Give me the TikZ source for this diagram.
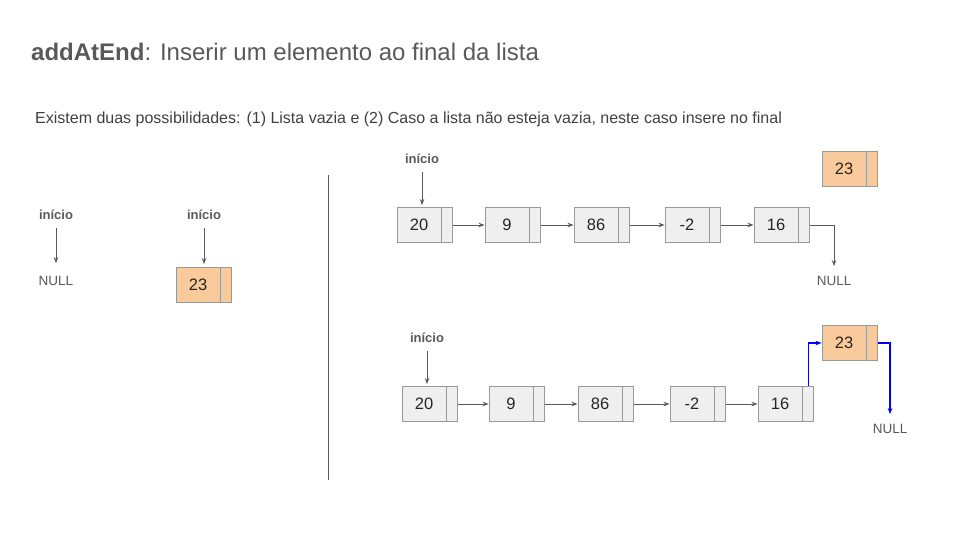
\documentclass[tikz,border=0pt]{standalone}
\usepackage{fontspec}
\setmainfont{Liberation Sans}
\usetikzlibrary{positioning,arrows.meta}
\definecolor{boxgray}{HTML}{EFEFEF}
\definecolor{edgegray}{HTML}{999999}
\definecolor{orangefill}{HTML}{F9CB9C}
\definecolor{textgray}{HTML}{595959}
\definecolor{linkblue}{HTML}{0000FF}
\begin{document}
\begin{tikzpicture}[
  x=1pt, y=-1pt,
  every node/.style={font=\fontsize{16.5}{19}\selectfont, inner sep=0pt, text=black!85},
  value/.style={draw=edgegray, line width=0.9pt, fill=boxgray, minimum width=44pt, minimum height=35pt},
  pointer/.style={draw=edgegray, line width=0.9pt, fill=boxgray, minimum width=11pt, minimum height=35pt, anchor=west},
  newval/.style={value, fill=orangefill},
  newptr/.style={pointer, fill=orangefill},
  head/.style={font=\bfseries\fontsize{13}{15}\selectfont, text=textgray},
  nulltext/.style={font=\fontsize{13.5}{16}\selectfont, text=textgray},
  link/.style={draw=textgray, line width=0.9pt, -{Stealth[length=6pt,width=4.5pt]}},
  newlink/.style={draw=linkblue, line width=1.1pt, -{Stealth[length=6pt,width=4.5pt]}}
]
  \useasboundingbox (0,0) rectangle (960,540);

  % title and text
  \node[anchor=base west, font=\fontsize{24}{28}\selectfont, text=textgray] (title) at (31,61)
    {\textbf{addAtEnd}: Inserir um elemento ao final da lista};
  \node[anchor=base west, font=\fontsize{16}{19}\selectfont, text=black!75] (intro) at (35,124)
    {Existem duas possibilidades: (1) Lista vazia e (2) Caso a lista não esteja vazia, neste caso insere no final};

  % separator
  \coordinate (sepa) at (328,175);
  \coordinate (sepb) at (328,480);
  \draw[textgray, line width=1pt] (sepa) -- (sepb);

  % (1) empty list
  \node[head] (h0) at (56,215) {início};
  \node[nulltext] (n0) at (56,281) {NULL};
  \draw[link, shorten <=8pt, shorten >=13pt] (h0) -- (n0);

  \node[head] (h1) at (204,215) {início};
  \node[newval] (l1) at (198,285) {23};
  \node[newptr] (l1p) at (l1.east) {};
  \draw[link, shorten <=8pt, shorten >=3pt] (h1) -- (h1 |- l1.north);

  % (2) list before insertion
  \node[head] (ht) at (422,159) {início};
  \node[value] (t1) at (419,225) {20};
  \node[pointer] (t1p) at (t1.east) {};
  \node[value] (t2) at (507,225) {9};
  \node[pointer] (t2p) at (t2.east) {};
  \node[value] (t3) at (596,225) {86};
  \node[pointer] (t3p) at (t3.east) {};
  \node[value] (t4) at (687,225) {-2};
  \node[pointer] (t4p) at (t4.east) {};
  \node[value] (t5) at (776,225) {16};
  \node[pointer] (t5p) at (t5.east) {};
  \node[newval] (t6) at (844,169) {23};
  \node[newptr] (t6p) at (t6.east) {};
  \node[nulltext] (tn) at (834,281) {NULL};

  \draw[link, shorten <=8pt, shorten >=2pt] (ht) -- (ht |- t1.north);
  \draw[link] (t1p) -- (t2);
  \draw[link] (t2p) -- (t3);
  \draw[link] (t3p) -- (t4);
  \draw[link] (t4p) -- (t5);
  \draw[link, shorten >=10pt] (t5p.east) -| (tn);

  % (2) list after insertion
  \node[head] (hb) at (427,338) {início};
  \node[value] (b1) at (424,404) {20};
  \node[pointer] (b1p) at (b1.east) {};
  \node[value] (b2) at (511,404) {9};
  \node[pointer] (b2p) at (b2.east) {};
  \node[value] (b3) at (600,404) {86};
  \node[pointer] (b3p) at (b3.east) {};
  \node[value] (b4) at (692,404) {-2};
  \node[pointer] (b4p) at (b4.east) {};
  \node[value] (b5) at (780,404) {16};
  \node[pointer] (b5p) at (b5.east) {};
  \node[newval] (b6) at (844,343) {23};
  \node[newptr] (b6p) at (b6.east) {};
  \node[nulltext] (bn) at (890,429) {NULL};

  \draw[link, shorten <=8pt, shorten >=2pt] (hb) -- (hb |- b1.north);
  \draw[link] (b1p) -- (b2);
  \draw[link] (b2p) -- (b3);
  \draw[link] (b3p) -- (b4);
  \draw[link] (b4p) -- (b5);
  \draw[newlink] (b5p.north) |- (b6.west);
  \draw[newlink, shorten >=10pt] (b6p.east) -| (bn);
\end{tikzpicture}
\end{document}
